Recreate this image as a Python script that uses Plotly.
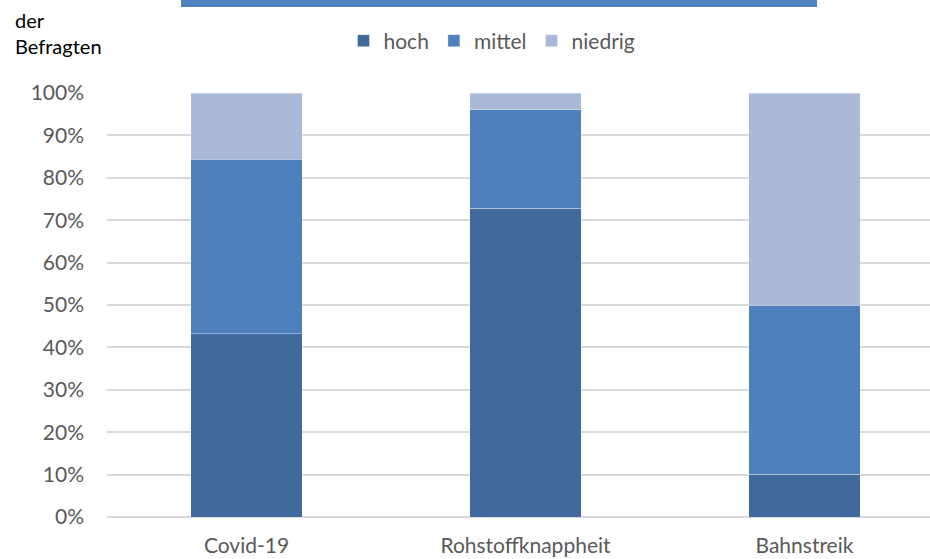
import plotly.graph_objects as go

categories = ["Covid-19", "Rohstoffknappheit", "Bahnstreik"]
hoch = [43.2, 72.8, 10.1]
mittel = [41.2, 23.2, 39.9]
niedrig = [15.6, 4.0, 50.0]
series_names = ["hoch", "mittel", "niedrig"]
colors = ["#416A9C", "#4E80BC", "#AAB9D7"]
y_ticks = [0, 10, 20, 30, 40, 50, 60, 70, 80, 90, 100]
y_tick_labels = [f"{v}%" for v in y_ticks]

W, H = 930, 559
L, T, PW, PH = 107, 93, 823, 424
font_family = "Lato, 'Open Sans', sans-serif"

fig = go.Figure()
for name, vals, col in zip(series_names, [hoch, mittel, niedrig], colors):
    fig.add_trace(go.Bar(
        x=categories, y=vals, name=name, width=0.4,
        marker=dict(color=col, line=dict(color="rgba(255,255,255,0.35)", width=1)),
    ))

fig.update_layout(
    width=W, height=H,
    barmode="stack",
    plot_bgcolor="white", paper_bgcolor="white",
    margin=dict(l=L, r=0, t=T, b=H - T - PH, autoexpand=False),
    font=dict(family=font_family, size=21, color="#595959"),
    showlegend=True,
    legend=dict(
        orientation="h", xref="container", yref="container",
        x=492 / W, xanchor="center", y=1 - 41 / H, yanchor="middle",
        font=dict(size=21, color="#595959"), itemwidth=30,
        traceorder="normal", bgcolor="rgba(0,0,0,0)",
    ),
    xaxis=dict(
        range=[-0.5, 2.45], showgrid=False, showline=False, zeroline=False,
        ticks="", ticklabelstandoff=14, tickfont=dict(size=21, color="#595959"),
        fixedrange=True, automargin=False,
    ),
    yaxis=dict(
        range=[0, 100], tickvals=y_ticks, ticktext=y_tick_labels,
        showgrid=True, gridcolor="#D9D9D9", gridwidth=1.5,
        zeroline=True, zerolinecolor="#D9D9D9", zerolinewidth=1.5,
        showline=False, ticks="", ticklabelstandoff=22,
        tickfont=dict(size=21, color="#595959"), automargin=False,
    ),
    shapes=[dict(
        type="rect", xref="paper", yref="paper",
        x0=(181 - L) / PW, x1=(817 - L) / PW,
        y0=1 + (T - 7) / PH, y1=1 + (T + 5) / PH,
        fillcolor="#4F81BD", line=dict(width=0), layer="above",
    )],
    annotations=[dict(
        text="der<br>Befragten", xref="paper", yref="paper",
        x=(13 - L) / PW, y=1 + (T - 6) / PH, xanchor="left", yanchor="top",
        showarrow=False, align="left",
        font=dict(size=20, color="#000000"),
    )],
)

fig.write_html("out.html")
